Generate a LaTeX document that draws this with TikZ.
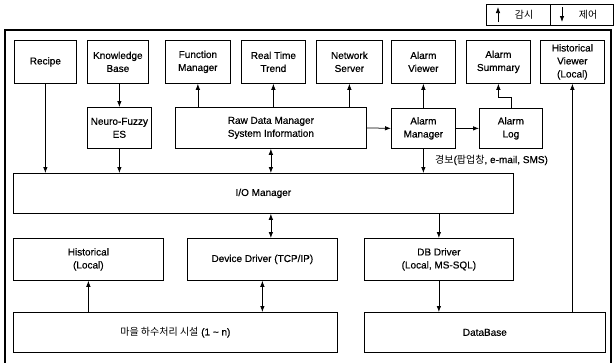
\documentclass[tikz,border=0pt]{standalone}
\usepackage{fontspec}
\setmainfont{Liberation Sans}[FakeBold=0.5]
\newfontfamily\kr{Noto Sans CJK KR}
\usetikzlibrary{arrows.meta}
\tikzset{
  box/.style={draw, line width=0.75pt, anchor=north west, align=center, inner sep=1pt,
    font=\fontsize{10}{13}\selectfont},
  arr/.style={line width=0.75pt, -{Latex[length=6pt,width=4.5pt]}},
  darr/.style={line width=0.75pt, {Latex[length=6pt,width=4.5pt]}-{Latex[length=6pt,width=4.5pt]}},
  lbl/.style={font=\fontsize{10}{12}\selectfont, inner sep=0pt}
}
\newcommand{\bx}[6]{\node[box, minimum width=#4pt, minimum height=#5pt] (#1) at (#2,#3) {#6};}
\begin{document}
\begin{tikzpicture}[x=1pt,y=-1pt]
\useasboundingbox (0,0) rectangle (614,362);
\fill[white] (0,0) rectangle (614,362);

% legend
\node[draw, line width=0.75pt, anchor=north west, minimum width=64pt, minimum height=21pt, inner sep=0pt] (legA) at (486,4) {};
\node[draw, line width=0.75pt, anchor=north west, minimum width=63pt, minimum height=21pt, inner sep=0pt] (legB) at (550,4) {};
\coordinate (ua) at (498,22);
\coordinate (ub) at (498,7);
\draw[arr] (ua) -- (ub);
\node[lbl] (legAt) at (524,14.5) {\kr 감시};
\coordinate (da) at (562,7);
\coordinate (db2) at (562,22);
\draw[arr] (da) -- (db2);
\node[lbl] (legBt) at (588,14.5) {\kr 제어};

% outer frame
\coordinate (fa) at (5,364);
\coordinate (fb) at (5,30);
\coordinate (fc) at (611,30);
\coordinate (fd) at (611,364);
\draw[line width=1.3pt] (fa) -- (fb) -- (fc) -- (fd);

% top row
\bx{recipe}{14}{40}{62}{43}{Recipe}
\bx{kb}{87}{40}{61}{43}{Knowledge\\Base}
\bx{fm}{165}{40}{65}{43}{Function\\Manager}
\bx{rtt}{241}{40}{64}{43}{Real Time\\Trend}
\bx{ns}{316}{40}{66}{43}{Network\\Server}
\bx{av}{391}{40}{64}{43}{Alarm\\Viewer}
\bx{as}{466}{40}{64}{43}{Alarm\\Summary}
\bx{hv}{540}{40}{64}{43}{Historical\\Viewer\\(Local)}

% second row
\bx{nf}{87}{107}{64}{41}{Neuro-Fuzzy\\ES}
\bx{raw}{175}{107}{191}{41}{Raw Data Manager\\System Information}
\bx{am}{391}{108}{64}{40}{Alarm\\Manager}
\bx{al}{479}{108}{63}{40}{Alarm\\Log}

% I/O layer
\bx{io}{13}{173}{500}{40}{I/O Manager}

% drivers
\bx{hist}{13}{238}{150}{42}{Historical\\(Local)}
\bx{dd}{187}{238}{150}{42}{Device Driver (TCP/IP)}
\bx{dbd}{364}{238}{149}{42}{DB Driver\\(Local, MS-SQL)}

% bottom row
\bx{vil}{13}{312}{324}{40}{{\kr 마을 하수처리 시설} (1 \textasciitilde{} n)}
\bx{db}{364}{312}{241}{40}{DataBase}

% connectors
\draw[arr] (recipe.south) -- (recipe.south |- io.north);
\draw[arr] (kb.south -| nf.north) -- (nf.north);
\draw[arr] (nf.south) -- (nf.south |- io.north);
\draw[arr] (raw.north -| fm.south) -- (fm.south);
\draw[arr] (raw.north -| rtt.south) -- (rtt.south);
\draw[arr] (raw.north -| ns.south) -- (ns.south);
\draw[darr] (raw.south) -- (raw.south |- io.north);
\draw[arr] (raw.east) -- (am.west);
\draw[arr] (am.north) -- (av.south);
\draw[arr] (am.east) -- (al.west);
\draw[arr] (al.north) -- ++(0,-11) -| (as.south);
\draw[arr] (am.south) -- (am.south |- io.north);
\node[lbl, anchor=west] (alarmlbl) at (435,160) {{\kr 경보}({\kr 팝업창}, e-mail, SMS)};
\draw[darr] (io.south -| raw.south) -- (dd.north -| raw.south);
\draw[arr] (io.south -| dbd.north) -- (dbd.north);
\draw[arr] (vil.north -| hist.south) -- (hist.south);
\draw[darr] (vil.north -| dd.south) -- (dd.south);
\draw[arr] (dbd.south) -- (dbd.south |- db.north);
\draw[arr] (db.north -| hv.south) -- (hv.south);
\end{tikzpicture}
\end{document}
